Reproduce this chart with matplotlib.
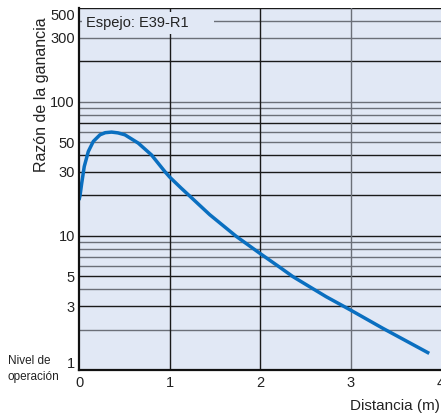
import numpy as np
import matplotlib
matplotlib.use("Agg")
import matplotlib.pyplot as plt
import matplotlib.transforms as mtrans

plt.rcParams['font.family'] = ['Liberation Sans', 'DejaVu Sans']

# curve (distance in m, gain ratio)
dist = [0.0, 0.011, 0.03, 0.058, 0.103, 0.158, 0.232, 0.29, 0.36, 0.43, 0.507, 0.654,
        0.80, 0.948, 1.003, 1.132, 1.224, 1.444, 1.739, 1.996, 2.216, 2.363, 2.731,
        3.0, 3.355, 3.87]
gain = [18.5, 19.9, 24.7, 32.9, 42.6, 50.6, 56.7, 58.8, 59.4, 58.6, 56.7, 49.2,
        40.2, 30.2, 27.4, 22.6, 19.8, 14.4, 9.9, 7.43, 5.85, 4.97, 3.52,
        2.8, 2.05, 1.33]

ytick_vals = [1, 3, 5, 10, 30, 50, 100, 300, 500]
xtick_vals = [0, 1, 2, 3, 4]
grid_y = [2, 3, 4, 5, 6, 7, 8, 9, 10, 20, 30, 40, 50, 60, 70, 80, 90, 100,
          200, 300, 400, 500]
dark_y = [3, 5, 10, 20, 30, 40, 70, 200, 500]

fig = plt.figure(figsize=(4.41, 4.16), dpi=100)
ax = fig.add_axes([79 / 441, 1 - 370 / 416, 362 / 441, 362 / 416])
ax.set_facecolor('#e1e8f5')
ax.set_yscale('log')
ax.set_xlim(0, 4)
ax.set_ylim(1, 500)

for g in grid_y:
    c = '#1a1a1a' if g in dark_y else '#6b6f78'
    ax.axhline(g, color=c, lw=1.0, zorder=1)
for xv in [1, 2, 3]:
    c = '#1a1a1a' if xv != 3 else '#6b6f78'
    ax.axvline(xv, color=c, lw=1.0, zorder=1)

ax.plot(dist, gain, color='#0a6fc0', lw=2.5, zorder=3, solid_capstyle='butt',
        solid_joinstyle='round')

for s in ['top', 'right']:
    ax.spines[s].set_visible(False)
for s in ['left', 'bottom']:
    ax.spines[s].set_color('#111111')
    ax.spines[s].set_linewidth(1.6)
    ax.spines[s].set_zorder(4)

ax.set_yticks(ytick_vals)
ax.set_yticklabels([str(v) for v in ytick_vals])
ax.yaxis.set_minor_locator(matplotlib.ticker.NullLocator())
ax.set_xticks(xtick_vals)
ax.set_xticklabels([str(v) for v in xtick_vals])
ax.tick_params(axis='both', length=0, labelsize=10.5, colors='#222222')
ax.tick_params(axis='y', pad=3)
ax.tick_params(axis='x', pad=4)

# shift a couple of labels as in the reference
ylabels = ax.get_yticklabels()
ylabels[0].set_transform(ylabels[0].get_transform() +
                         mtrans.ScaledTranslation(0, 7 / 100, fig.dpi_scale_trans))
ylabels[-1].set_transform(ylabels[-1].get_transform() +
                          mtrans.ScaledTranslation(0, -7 / 100, fig.dpi_scale_trans))

# label box hides the 400 line on the left
ax.text(0.02, 0.978, 'Espejo: E39-R1     ', transform=ax.transAxes, ha='left', va='top',
        fontsize=10.5, color='#222222', zorder=5,
        bbox=dict(boxstyle='square,pad=0.3', fc='#e1e8f5', ec='none'))

fig.text(42 / 441, 1 - 95 / 416, 'Razón de la ganancia', rotation=90,
         ha='center', va='center', fontsize=11.5, color='#222222')
fig.text(8 / 441, 1 - 369 / 416, 'Nivel de\noperación', ha='left', va='center',
         fontsize=8.5, color='#222222', linespacing=1.5)
fig.text(440 / 441, 1 - 406 / 416, 'Distancia (m)', ha='right', va='center',
         fontsize=11, color='#222222')

fig.savefig('out.png', dpi=100)
